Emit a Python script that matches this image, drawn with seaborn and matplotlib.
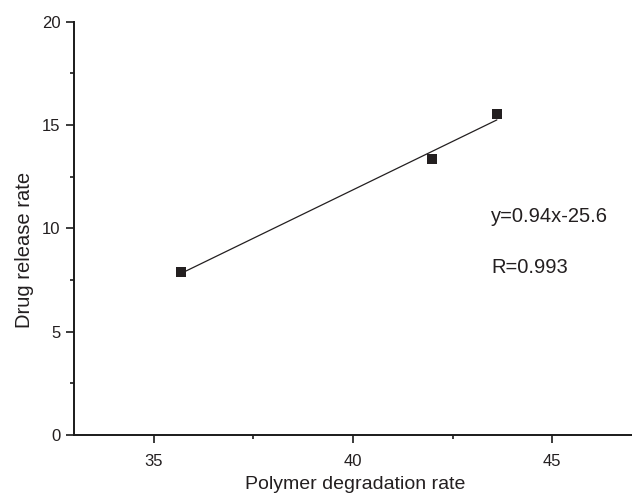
import matplotlib
matplotlib.use("Agg")
import matplotlib.pyplot as plt
import seaborn as sns
import pandas as pd
from matplotlib.ticker import MultipleLocator

# data
degradation = [35.69, 41.98, 43.61]
release = [7.90, 13.36, 15.54]
eq_text = "y=0.94x-25.6"
r_text = "R=0.993"
x_ticks = [35, 40, 45]
y_ticks = [0, 5, 10, 15, 20]

sns.set_style("ticks")
plt.rcParams['font.family'] = ['Liberation Sans', 'DejaVu Sans']

df = pd.DataFrame({"Polymer degradation rate": degradation,
                   "Drug release rate": release})

ink = "#231f20"
fig = plt.figure(figsize=(6.32, 4.98), dpi=100)
ax = fig.add_axes([74/632, 1-435/498, 1-74/632, (435-21.8)/498])

sns.regplot(data=df, x="Polymer degradation rate", y="Drug release rate",
            ci=None, marker='s', ax=ax,
            scatter_kws=dict(s=55, color=ink, edgecolors='none', alpha=1, zorder=3),
            line_kws=dict(color=ink, lw=0.9))

ax.set_xlim(33, 47)
ax.set_ylim(0, 20)
ax.set_xticks(x_ticks)
ax.set_yticks(y_ticks)
ax.xaxis.set_minor_locator(MultipleLocator(2.5))
ax.yaxis.set_minor_locator(MultipleLocator(2.5))

for s in ['top', 'right']:
    ax.spines[s].set_visible(False)
for s in ['left', 'bottom']:
    ax.spines[s].set_color('#1a1a1a')
    ax.spines[s].set_linewidth(1.4)

ax.tick_params(axis='both', which='major', direction='out', length=6, width=1.2,
               color='#1a1a1a', labelsize=12, labelcolor=ink)
ax.tick_params(axis='both', which='minor', direction='out', length=3, width=1.2,
               color='#1a1a1a')
ax.tick_params(axis='x', which='major', pad=8)
ax.tick_params(axis='y', which='major', pad=3.6)

ax.set_xlabel("Polymer degradation rate", fontsize=14, color=ink)
ax.set_ylabel("Drug release rate", fontsize=14.5, color=ink)
ax.xaxis.set_label_coords(0.504, -0.1)
ax.yaxis.set_label_coords(-0.072, 0.448)

ax.text(43.46, 10.6, eq_text, fontsize=14.5, color=ink, ha='left', va='center')
ax.text(43.46, 8.13, r_text, fontsize=14.5, color=ink, ha='left', va='center')

fig.savefig("out.png", dpi=100)
